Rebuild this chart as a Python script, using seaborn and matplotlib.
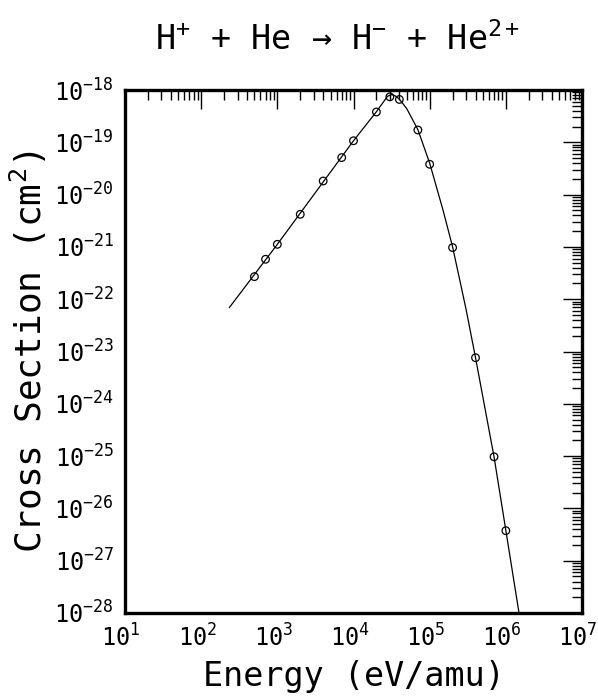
import numpy as np
import pandas as pd
import matplotlib
matplotlib.use("Agg")
import matplotlib.pyplot as plt
import matplotlib.transforms as mtransforms
import seaborn as sns
from matplotlib.ticker import LogLocator, FixedLocator, NullFormatter

# Measured data points (energy in eV/amu, cross section in cm^2)
energy_pts = [500, 700, 1000, 2000, 4000, 7000, 10000, 20000, 30000, 40000,
              70000, 100000, 200000, 400000, 700000, 1000000]
sigma_pts = [2.7e-22, 5.8e-22, 1.12e-21, 4.2e-21, 1.82e-20, 5.1e-20, 1.07e-19,
             3.8e-19, 7.4e-19, 6.6e-19, 1.72e-19, 3.8e-20, 9.7e-22, 7.6e-24,
             9.7e-26, 3.75e-27]

# Fitted curve
energy_fit = [234, 1000, 10000, 20000, 28000, 32000, 36000, 40000, 50000, 70000,
              100000, 150000, 200000, 300000, 400000, 700000, 1000000, 1490000]
sigma_fit = [6.9e-23, 1.12e-21, 1.07e-19, 3.85e-19, 7.6e-19, 8.2e-19, 7.6e-19,
             6.7e-19, 4.4e-19, 1.75e-19, 4.0e-20, 5.0e-21, 1.0e-21, 6.5e-23,
             7.6e-24, 9.7e-26, 3.8e-27, 1.0e-28]

x_ticks = [1e1, 1e2, 1e3, 1e4, 1e5, 1e6, 1e7]
x_ticklabels = [r"$10^{1}$", r"$10^{2}$", r"$10^{3}$", r"$10^{4}$",
                r"$10^{5}$", r"$10^{6}$", r"$10^{7}$"]
y_ticks = [1e-28, 1e-27, 1e-26, 1e-25, 1e-24, 1e-23, 1e-22, 1e-21, 1e-20, 1e-19, 1e-18]
y_ticklabels = [r"$10^{-28}$", r"$10^{-27}$", r"$10^{-26}$", r"$10^{-25}$",
                r"$10^{-24}$", r"$10^{-23}$", r"$10^{-22}$", r"$10^{-21}$",
                r"$10^{-20}$", r"$10^{-19}$", r"$10^{-18}$"]

sns.set_theme(style="white")
plt.rcParams["font.family"] = ["DejaVu Sans Mono", "DejaVu Sans"]
plt.rcParams["mathtext.fontset"] = "custom"
plt.rcParams["mathtext.rm"] = "DejaVu Sans Mono"
plt.rcParams["mathtext.it"] = "DejaVu Sans Mono"
plt.rcParams["mathtext.default"] = "rm"
plt.rcParams["text.color"] = "black"
plt.rcParams["axes.labelcolor"] = "black"
plt.rcParams["xtick.color"] = "black"
plt.rcParams["ytick.color"] = "black"

fig = plt.figure(figsize=(5.98, 6.96), dpi=100)
ax = fig.add_axes([125 / 598, 1 - 613 / 696, (582 - 125) / 598, (613 - 90) / 696])

df_fit = pd.DataFrame({"energy": energy_fit, "sigma": sigma_fit})
df_pts = pd.DataFrame({"energy": energy_pts, "sigma": sigma_pts})

sns.scatterplot(data=df_pts, x="energy", y="sigma", ax=ax, marker="o", s=30,
                facecolor="none", edgecolor="black", linewidth=0.9, zorder=2)
sns.lineplot(data=df_fit, x="energy", y="sigma", ax=ax, color="black",
             linewidth=0.9, sort=False, estimator=None, zorder=3)

ax.set_xscale("log")
ax.set_yscale("log")
ax.set_xlim(1e1, 1e7)
ax.set_ylim(1e-28, 1e-18)

ax.xaxis.set_major_locator(FixedLocator(x_ticks))
ax.set_xticklabels(x_ticklabels)
ax.yaxis.set_major_locator(FixedLocator(y_ticks))
ax.set_yticklabels(y_ticklabels)
ax.xaxis.set_minor_locator(LogLocator(base=10, subs=np.arange(2, 10), numticks=100))
ax.yaxis.set_minor_locator(LogLocator(base=10, subs=np.arange(2, 10), numticks=100))
ax.xaxis.set_minor_formatter(NullFormatter())
ax.yaxis.set_minor_formatter(NullFormatter())

ax.tick_params(which="major", direction="in", length=14, width=1.0, top=True, right=True,
               labelsize=17, color="black", labelcolor="black", pad=8)
ax.tick_params(which="minor", direction="in", length=7, width=1.0, top=True, right=True,
               color="black")

# shift x tick labels slightly left so the "10" sits on the tick
shift = mtransforms.ScaledTranslation(-4 / 100, 0, fig.dpi_scale_trans)
for lab in ax.get_xticklabels():
    lab.set_transform(lab.get_transform() + shift)

for sp in ax.spines.values():
    sp.set_linewidth(2.4)
    sp.set_color("black")

ax.set_xlabel("Energy (eV/amu)", fontsize=24, labelpad=6, color="black")
ax.set_ylabel(r"Cross Section (cm$^{2}$)", fontsize=26, labelpad=4, color="black")
fig.text(0.564, 0.943, r"H$^{+}$ + He → H$^{-}$ + He$^{2+}$", ha="center", va="center",
         fontsize=24, color="black")

fig.savefig("out.png", dpi=100, facecolor="white")
